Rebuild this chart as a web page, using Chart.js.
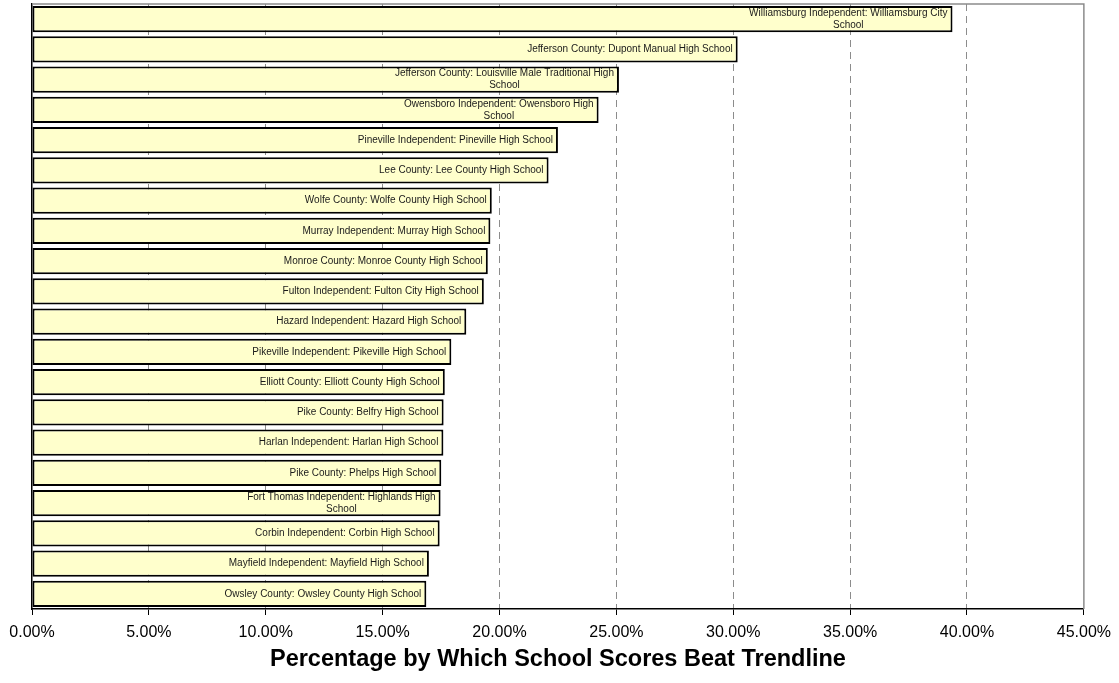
<!DOCTYPE html>
<html>
<head>
<meta charset="utf-8">
<script src="https://cdn.jsdelivr.net/npm/chart.js@4/dist/chart.umd.min.js"></script>
<style>
  html, body { margin: 0; padding: 0; background: #fff; }
  #wrap { width: 1119px; height: 683px; position: relative; }
</style>
</head>
<body>
<div id="wrap"><canvas id="chart"></canvas></div>
<script>
// school names (wrapped ones kept as line arrays, like the picture)
const schools = [
    ['Williamsburg Independent: Williamsburg City', 'School'],
    'Jefferson County: Dupont Manual High School',
    ['Jefferson County: Louisville Male Traditional High', 'School'],
    ['Owensboro Independent: Owensboro High', 'School'],
    'Pineville Independent: Pineville High School',
    'Lee County: Lee County High School',
    'Wolfe County: Wolfe County High School',
    'Murray Independent: Murray High School',
    'Monroe County: Monroe County High School',
    'Fulton Independent: Fulton City High School',
    'Hazard Independent: Hazard High School',
    'Pikeville Independent: Pikeville High School',
    'Elliott County: Elliott County High School',
    'Pike County: Belfry High School',
    'Harlan Independent: Harlan High School',
    'Pike County: Phelps High School',
    ['Fort Thomas Independent: Highlands High', 'School'],
    'Corbin Independent: Corbin High School',
    'Mayfield Independent: Mayfield High School',
    'Owsley County: Owsley County High School'
];

// percent above trendline
const beatPct = [39.38, 30.19, 25.11, 24.24, 22.50, 22.10, 19.67, 19.61, 19.50, 19.33,
                 18.58, 17.94, 17.66, 17.61, 17.60, 17.51, 17.48, 17.44, 16.98, 16.87];

const xMin = 0;
const xMax = 45;
const xStep = 5;
const axisTitle = 'Percentage by Which School Scores Beat Trendline';

const FONT = 'Arial, "Liberation Sans", sans-serif';

// labels inside the bars, right aligned
const barLabels = {
    id: 'barLabels',
    afterDatasetsDraw(chart) {
        const ctx = chart.ctx;
        const meta = chart.getDatasetMeta(0);
        ctx.save();
        ctx.font = '10px ' + FONT;
        ctx.fillStyle = '#1a1a1a';
        ctx.textAlign = 'center';
        ctx.textBaseline = 'middle';
        meta.data.forEach((bar, i) => {
            const lines = Array.isArray(schools[i]) ? schools[i] : [schools[i]];
            const w = Math.max(...lines.map(l => ctx.measureText(l).width));
            const cx = bar.x - 5 - w / 2;
            const lh = 12;
            const y0 = bar.y - (lines.length - 1) * lh / 2;
            lines.forEach((l, k) => ctx.fillText(l, cx, y0 + k * lh));
        });
        ctx.restore();
    }
};

// gray frame on top and right of plot
const plotFrame = {
    id: 'plotFrame',
    beforeDatasetsDraw(chart) {
        const { ctx, chartArea: a } = chart;
        ctx.save();
        ctx.strokeStyle = '#8c8c8c';
        ctx.lineWidth = 1.5;
        ctx.beginPath();
        ctx.moveTo(a.left, a.top);
        ctx.lineTo(a.right, a.top);
        ctx.lineTo(a.right, a.bottom);
        ctx.stroke();
        ctx.restore();
    }
};

new Chart(document.getElementById('chart'), {
    type: 'bar',
    data: {
        labels: schools,
        datasets: [{
            data: beatPct,
            backgroundColor: '#FFFFCC',
            borderColor: '#000',
            borderWidth: 2,
            borderSkipped: false,
            barPercentage: 0.86,
            categoryPercentage: 1
        }]
    },
    options: {
        indexAxis: 'y',
        responsive: true,
        maintainAspectRatio: false,
        animation: false,
        layout: { padding: { left: 32, right: 35, top: 4, bottom: 0 } },
        plugins: {
            legend: { display: false },
            tooltip: { enabled: false }
        },
        scales: {
            x: {
                min: xMin,
                max: xMax,
                afterFit: s => { s.height = 74; },
                ticks: {
                    stepSize: xStep,
                    color: '#000',
                    padding: 8,
                    maxRotation: 0,
                    font: { family: FONT, size: 16 },
                    callback: v => v.toFixed(2) + '%'
                },
                grid: {
                    color: ctx => (ctx.index === 0 || ctx.tick && ctx.tick.value === xMax) ? 'rgba(0,0,0,0)' : '#8c8c8c',
                    tickColor: '#000',
                    tickLength: 6,
                    tickBorderDash: [],
                    borderDash: [7, 5]
                },
                border: { display: true, color: '#000', width: 1.5, dash: [7, 5] },
                title: {
                    display: true,
                    text: axisTitle,
                    color: '#000',
                    font: { family: FONT, size: 23.5, weight: 'bold' },
                    padding: { top: 1, bottom: 9 }
                }
            },
            y: {
                ticks: { display: false },
                grid: { display: false },
                border: { display: true, color: '#000', width: 1.5 },
                afterFit: s => { s.width = 0; }
            }
        }
    },
    plugins: [barLabels, plotFrame]
});
</script>
</body>
</html>
